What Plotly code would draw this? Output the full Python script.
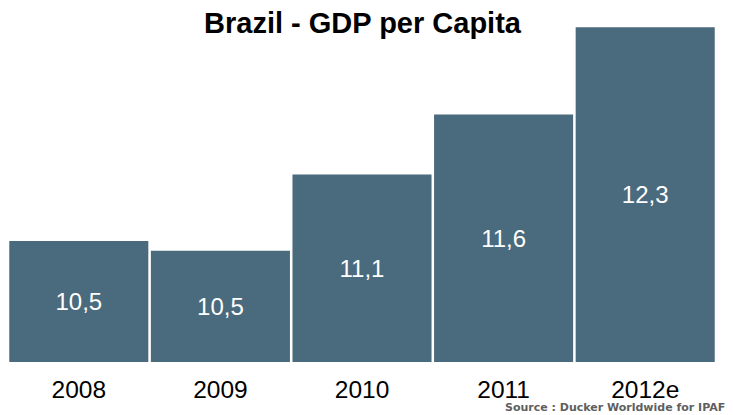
import plotly.graph_objects as go

years = ["2008", "2009", "2010", "2011", "2012e"]
gdp_values = [10.56, 10.48, 11.10, 11.59, 12.30]
value_labels = ["10,5", "10,5", "11,1", "11,6", "12,3"]

axis_min = 9.573
axis_max = 12.36
bar_color = "#4a6a7d"

# page body has an 8px margin, so the figure is sized to fit the window
W, H = 725, 407
L, R, T, B = 0, 17, 12, 53
plot_w = W - L - R
plot_h = H - T - B

fig = go.Figure(
    go.Bar(
        x=years,
        y=[v - axis_min for v in gdp_values],
        base=axis_min,
        text=value_labels,
        textposition="inside",
        insidetextanchor="middle",
        textangle=0,
        textfont=dict(family="Liberation Sans, Arial, sans-serif", size=24, color="white"),
        marker=dict(color=bar_color, line=dict(width=0)),
        hoverinfo="skip",
    )
)

fig.update_layout(
    width=W,
    height=H,
    autosize=False,
    margin=dict(l=L, r=R, t=T, b=B, pad=0),
    paper_bgcolor="white",
    plot_bgcolor="white",
    bargap=0.018,
    showlegend=False,
    title=dict(
        text="<b>Brazil - GDP per Capita</b>",
        x=354.5 / W,
        xanchor="center",
        y=1 - 15 / H,
        yanchor="middle",
        font=dict(family="Liberation Sans, Arial, sans-serif", size=29, color="black"),
    ),
    xaxis=dict(
        showgrid=False,
        showline=False,
        zeroline=False,
        ticks="",
        ticklabelstandoff=10,
        tickfont=dict(family="Liberation Sans, Arial, sans-serif", size=24.5, color="black"),
        automargin=False,
    ),
    yaxis=dict(
        range=[axis_min, axis_max],
        visible=False,
        showgrid=False,
        zeroline=False,
        automargin=False,
    ),
    annotations=[
        dict(
            text="<b>Source : Ducker Worldwide for IPAF</b>",
            xref="paper",
            yref="paper",
            x=719 / plot_w,
            y=-(399 - (H - B)) / plot_h,
            xanchor="right",
            yanchor="middle",
            showarrow=False,
            font=dict(family="DejaVu Sans, sans-serif", size=11, color="#5f5f5f"),
        )
    ],
)

fig.write_html("out.html")
